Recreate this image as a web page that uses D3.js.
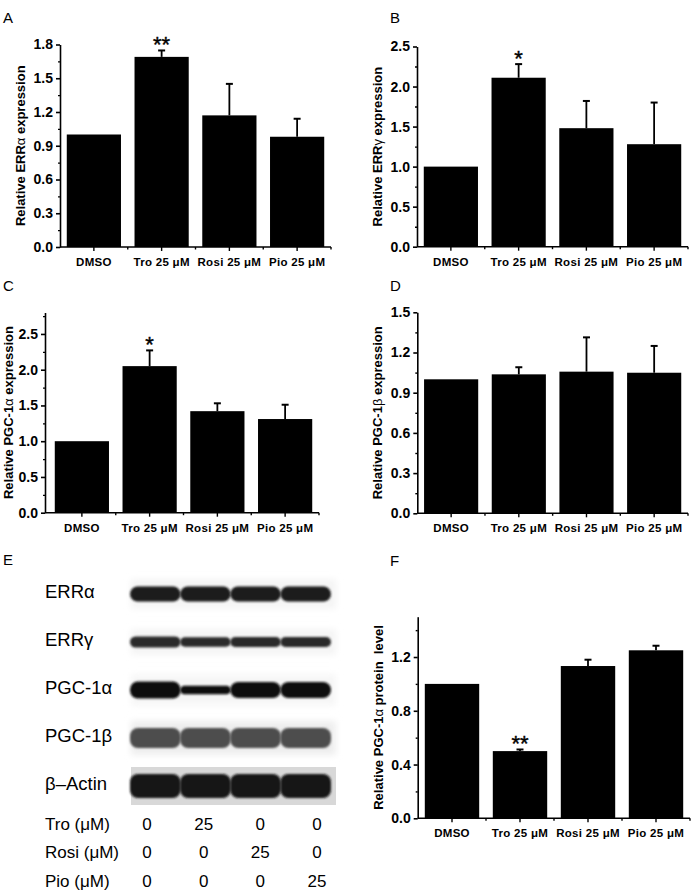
<!DOCTYPE html>
<html>
<head>
<meta charset="utf-8">
<script src="https://cdn.jsdelivr.net/npm/d3@7"></script>
<style>
body { margin: 0; background: #fff; }
text { font-family: "Liberation Sans", Arial, sans-serif; }
</style>
</head>
<body>
<div id="fig"></div>
<script>
const groups = ["DMSO", "Tro 25 μM", "Rosi 25 μM", "Pio 25 μM"]

// A: ERRα mRNA
const errAMean = [1.0, 1.69, 1.17, 0.98]
const errASem = [0, 0.057, 0.28, 0.16]
const errAStars = ["", "**", "", ""]

// B: ERRγ mRNA
const errGMean = [1.0, 2.11, 1.48, 1.28]
const errGSem = [0, 0.17, 0.34, 0.52]
const errGStars = ["", "*", "", ""]

// C: PGC-1α mRNA
const pgc1aMean = [1.0, 2.05, 1.42, 1.31]
const pgc1aSem = [0, 0.22, 0.11, 0.20]
const pgc1aStars = ["", "*", "", ""]

// D: PGC-1β mRNA
const pgc1bMean = [1.0, 1.037, 1.057, 1.049]
const pgc1bSem = [0, 0.053, 0.256, 0.20]
const pgc1bStars = ["", "", "", ""]

// F: PGC-1α protein
const proteinMean = [1.0, 0.50, 1.133, 1.25]
const proteinSem = [0, 0.012, 0.047, 0.034]
const proteinStars = ["", "**", "", ""]

// E: blot, relative band density per lane
const blotRows = ["ERRα", "ERRγ", "PGC-1α", "PGC-1β", "β–Actin"]
const errABand = [1, 1, 1, 1]
const errGBand = [1, 0.85, 0.9, 0.9]
const pgc1aBand = [1, 0.5, 0.95, 0.95]
const pgc1bBand = [1, 1, 1, 1]
const actinBand = [1, 1, 1, 1]

const treatRows = ["Tro (μM)", "Rosi (μM)", "Pio (μM)"]
const troDose = [0, 25, 0, 0]
const rosiDose = [0, 0, 25, 0]
const pioDose = [0, 0, 0, 25]

const W = 693, H = 890
const svg = d3.select("#fig").append("svg")
    .attr("width", W)
    .attr("height", H)
svg.append("rect").attr("width", W).attr("height", H).attr("fill", "#fff")

const defs = svg.append("defs")
defs.append("filter").attr("id", "blur")
    .attr("x", "-20%").attr("y", "-60%").attr("width", "140%").attr("height", "220%")
    .append("feGaussianBlur").attr("stdDeviation", 1.3)
defs.append("filter").attr("id", "haze")
    .attr("x", "-20%").attr("y", "-60%").attr("width", "140%").attr("height", "220%")
    .append("feGaussianBlur").attr("stdDeviation", 3)

const steps = (step, n, off) => d3.range(n).map(i => +(off + i * step).toFixed(3))

function panelLetter(t, x, y) {
    svg.append("text").attr("x", x).attr("y", y)
        .attr("font-size", 15).attr("fill", "#000").text(t)
}

function barPanel(p) {
    const g = svg.append("g")
    const y = d3.scaleLinear().domain([0, p.max]).range([p.bottom, p.top])
    const x = d3.scaleBand().domain(groups)
        .range(p.band)
        .paddingInner(0.2).paddingOuter(0.1)

    // bars
    g.selectAll("rect.bar").data(groups).join("rect")
        .attr("class", "bar")
        .attr("x", d => x(d))
        .attr("width", x.bandwidth())
        .attr("y", (d, i) => y(p.mean[i]))
        .attr("height", (d, i) => y(0) - y(p.mean[i]))
        .attr("fill", "#000")

    // upper error bars
    const eb = groups.map((d, i) => ({ c: x(d) + x.bandwidth() / 2, m: p.mean[i], e: p.sem[i], s: p.stars[i] }))
        .filter(d => d.e > 0)
    g.selectAll("line.err").data(eb).join("line")
        .attr("x1", d => d.c).attr("x2", d => d.c)
        .attr("y1", d => y(d.m)).attr("y2", d => y(d.m + d.e))
        .attr("stroke", "#000").attr("stroke-width", 1.8)
    g.selectAll("line.cap").data(eb).join("line")
        .attr("x1", d => d.c - 3.5).attr("x2", d => d.c + 3.5)
        .attr("y1", d => y(d.m + d.e)).attr("y2", d => y(d.m + d.e))
        .attr("stroke", "#000").attr("stroke-width", 2)
    g.selectAll("text.star").data(eb.filter(d => d.s)).join("text")
        .attr("x", d => d.c).attr("y", d => y(d.m + d.e) + 2)
        .attr("text-anchor", "middle").attr("font-size", 22)
        .attr("stroke", "#000").attr("stroke-width", 0.4)
        .text(d => d.s)

    // y axis
    const ya = g.append("g").attr("transform", `translate(${p.x0},0)`)
        .call(d3.axisLeft(y).tickValues(p.major).tickSize(4).tickSizeOuter(0)
            .tickPadding(3).tickFormat(d3.format(".1f")))
    ya.selectAll("text").attr("font-size", 14).attr("font-weight", "bold")
        .attr("font-family", "'Liberation Sans', Arial, sans-serif")
    ya.selectAll("line").attr("stroke-width", 1.6)
    ya.select(".domain").attr("stroke-width", 1.6)
    const ym = g.append("g").attr("transform", `translate(${p.x0},0)`)
        .call(d3.axisLeft(y).tickValues(p.minor).tickSize(2).tickSizeOuter(0).tickFormat(""))
    ym.select(".domain").remove()
    ym.selectAll("line").attr("stroke-width", 1.4)

    // x axis
    const xa = g.append("g").attr("transform", `translate(0,${p.bottom})`)
        .call(d3.axisBottom(x).tickSize(4).tickSizeOuter(0).tickPadding(7))
    xa.select(".domain").remove()
    xa.selectAll("line").attr("stroke-width", 1.4)
    xa.selectAll("text").attr("font-size", 11.5).attr("font-weight", "bold")
        .attr("letter-spacing", 0.3)
        .attr("font-family", "'Liberation Sans', Arial, sans-serif")
    g.append("line")
        .attr("x1", p.x0).attr("x2", p.x1)
        .attr("y1", p.bottom).attr("y2", p.bottom)
        .attr("stroke", "#000").attr("stroke-width", 1.6)
    const bounds = groups.slice(1).map(d => x(d) - x.step() * x.paddingInner() / 2)
        .concat([p.x1])
    g.selectAll("line.minx").data(bounds).join("line")
        .attr("x1", d => d).attr("x2", d => d)
        .attr("y1", p.bottom).attr("y2", p.bottom + 2.5)
        .attr("stroke", "#000").attr("stroke-width", 1.4)

    // y label
    const lab = g.append("text")
        .attr("transform", `translate(${p.x0 - p.labelOff},${(p.top + p.bottom) / 2}) rotate(-90)`)
        .attr("text-anchor", "middle")
        .attr("font-size", 13).attr("font-weight", "bold")
        .style("white-space", "pre")
    lab.append("tspan").text(p.label[0])
    lab.append("tspan").attr("font-weight", "normal").text(p.label[1])
    lab.append("tspan").text(p.label[2])
}

panelLetter("A", 3, 23)
barPanel({ mean: errAMean, sem: errASem, stars: errAStars, max: 1.8,
    major: steps(0.3, 7, 0), minor: steps(0.3, 6, 0.15),
    x0: 60, x1: 331, band: [60, 331], top: 44.5, bottom: 247, labelOff: 35,
    label: ["Relative ERR", "α", " expression"] })

panelLetter("B", 390, 23)
barPanel({ mean: errGMean, sem: errGSem, stars: errGStars, max: 2.5,
    major: steps(0.5, 6, 0), minor: steps(0.5, 5, 0.25),
    x0: 417, x1: 688, band: [417, 688], top: 46.5, bottom: 246.7, labelOff: 35,
    label: ["Relative ERR", "γ", " expression"] })

panelLetter("C", 3, 291)
barPanel({ mean: pgc1aMean, sem: pgc1aSem, stars: pgc1aStars, max: 2.8,
    major: steps(0.5, 6, 0), minor: steps(0.5, 6, 0.25),
    x0: 45, x1: 319, band: [48, 319], top: 312.5, bottom: 512.7, labelOff: 32.5,
    label: ["Relative PGC-1", "α", " expression"] })

panelLetter("D", 390, 291)
barPanel({ mean: pgc1bMean, sem: pgc1bSem, stars: pgc1bStars, max: 1.5,
    major: steps(0.3, 6, 0), minor: steps(0.3, 5, 0.15),
    x0: 417.3, x1: 688, band: [417.3, 688], top: 312.3, bottom: 513.3, labelOff: 35,
    label: ["Relative PGC-1", "β", " expression"] })

panelLetter("F", 390, 566)
barPanel({ mean: proteinMean, sem: proteinSem, stars: proteinStars, max: 1.5,
    major: steps(0.4, 4, 0), minor: steps(0.4, 4, 0.2),
    x0: 417.7, x1: 690, band: [418, 690], top: 616.7, bottom: 818.3, labelOff: 35,
    label: ["Relative PGC-1", "α", " protein  level"] })

// E: western blot
panelLetter("E", 3, 565)
const bands = [errABand, errGBand, pgc1aBand, pgc1bBand, actinBand]
const rowThick = [15, 11, 17, 20, 24]
const rowColor = ["#1c1c1c", "#2a2a2a", "#0e0e0e", "#4d4d4d", "#141414"]
const rowBg = ["#f4f4f4", "#f4f4f4", "#f6f6f6", "#eeeeee", "#d8d8d8"]
const lane = d3.scaleBand().domain(d3.range(4)).range([131, 330]).paddingInner(0.03)
const row = d3.scaleBand().domain(blotRows).range([570, 810])
const blot = svg.append("g")

blotRows.forEach((r, ri) => {
    const cy = row(r) + row.bandwidth() / 2
    const t = rowThick[ri]
    blot.append("rect")
        .attr("x", lane.range()[0]).attr("width", lane.range()[1] - lane.range()[0] + 6)
        .attr("y", cy - t / 2 - 7).attr("height", t + 14)
        .attr("fill", rowBg[ri])
        .attr("filter", ri === 4 ? null : "url(#haze)")
    blot.selectAll(null).data(bands[ri]).join("rect")
        .attr("x", (d, i) => lane(i) - 1)
        .attr("width", lane.bandwidth() + 2)
        .attr("y", d => cy - t * d / 2)
        .attr("height", d => t * d)
        .attr("rx", d => Math.min(t * d / 2, 8))
        .attr("fill", rowColor[ri])
        .attr("filter", "url(#blur)")
    blot.append("text")
        .attr("x", 45).attr("y", cy + 4)
        .attr("font-size", 18.5).text(r)
})

// treatment table
const col = d3.scalePoint().domain(d3.range(4)).range([147, 317])
const trow = d3.scalePoint().domain(treatRows).range([830, 886.5])
const doses = [troDose, rosiDose, pioDose]
treatRows.forEach((r, ri) => {
    svg.append("text").attr("x", 45).attr("y", trow(r))
        .attr("font-size", 17).text(r)
    svg.selectAll(null).data(doses[ri]).join("text")
        .attr("x", (d, i) => col(i)).attr("y", trow(r))
        .attr("text-anchor", "middle")
        .attr("font-size", 17).text(d => d)
})
</script>
</body>
</html>
